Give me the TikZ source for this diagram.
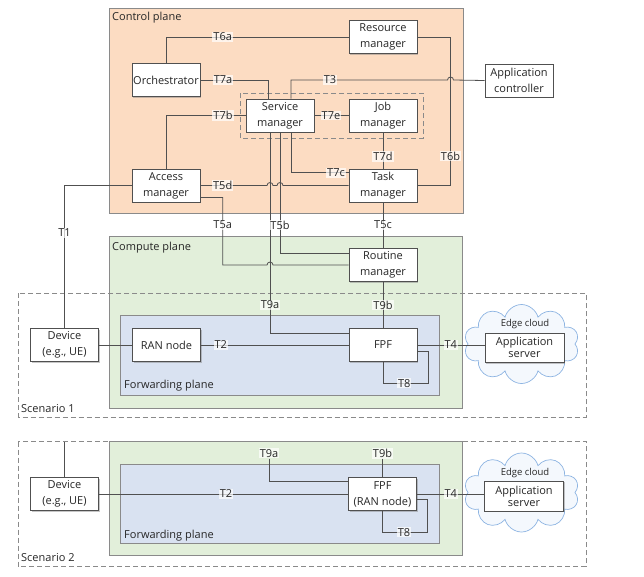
\documentclass[tikz,border=0pt]{standalone}
\usepackage{fontspec}
\setmainfont{Open Sans}
\usetikzlibrary{shadows,shapes.symbols}
\definecolor{ctrl}{HTML}{FCDCC2}
\definecolor{comp}{HTML}{E2EFDA}
\definecolor{fwd}{HTML}{D9E2F1}
\definecolor{ln}{HTML}{505050}
\definecolor{frame}{HTML}{8A8A8A}
\definecolor{cloudc}{HTML}{8DB4E2}
\definecolor{cloudf}{HTML}{F4F8FD}
\definecolor{txt}{HTML}{262626}
\begin{document}
\begin{tikzpicture}[x=1pt,y=-1pt,
  every node/.style={text=txt},
  box/.style={draw=ln, fill=white, line width=0.8pt, align=center, inner sep=0pt,
    minimum width=68pt, minimum height=33pt, font=\fontsize{11}{16}\selectfont,
    drop shadow={shadow xshift=1.2pt, shadow yshift=-1.2pt, opacity=0.45}},
  plane/.style={draw=frame, line width=0.8pt},
  scen/.style={draw=frame, line width=0.8pt, dash pattern=on 5pt off 3pt},
  lab/.style={fill=white, fill opacity=0.7, text opacity=1, inner sep=1pt, font=\fontsize{11}{13}\selectfont},
  tit/.style={anchor=west, font=\fontsize{11}{13}\selectfont, inner sep=0pt},
  wire/.style={draw=ln, line width=0.8pt},
  edgecloud/.style={cloud, cloud puffs=10, cloud ignores aspect, draw=cloudc, fill=cloudf,
    line width=0.7pt, minimum width=115pt, minimum height=79pt},
  small/.style={font=\fontsize{9.5}{11}\selectfont, inner sep=0pt}]
\useasboundingbox (0,0) rectangle (644,576);

% ---------- planes ----------
\draw[plane, fill=ctrl] (109,8) rectangle (463,213);
\node[tit] (ctrlt) at (112,18) {Control plane};
\draw[plane, fill=comp] (109.3,236.7) rectangle (462.3,408);
\node[tit] (compt) at (112,248) {Compute plane};
\draw[plane, fill=fwd] (120.7,315.7) rectangle (439.3,395);
\node[tit] (fwdt) at (124,386) {Forwarding plane};
\draw[scen] (18.3,293.3) rectangle (586,417);
\node[tit] (s1t) at (21,409) {Scenario 1};

\draw[plane, fill=comp] (109.3,441.7) rectangle (462.3,555.7);
\draw[plane, fill=fwd] (120.7,464) rectangle (439.3,543.3);
\node[tit] (fwdt2) at (124,536) {Forwarding plane};
\draw[scen] (18.3,441.7) rectangle (586,566.7);
\node[tit] (s2t) at (21,557.7) {Scenario 2};

\draw[scen] (240,93) rectangle (423,138);

% ---------- clouds ----------
\node[edgecloud] (cl1) at (521.5,344) {};
\node[small] (ec1) at (525,324.3) {Edge cloud};
\node[edgecloud] (cl2) at (521.5,492.5) {};
\node[small] (ec2) at (525,473.3) {Edge cloud};

% ---------- boxes ----------
\node[box] (res) at (383,37) {Resource\\manager};
\node[box] (orch) at (166,80) {Orchestrator};
\node[box] (serv) at (280,115.5) {Service\\manager};
\node[box] (job) at (383,115.5) {Job\\manager};
\node[box] (acc) at (166,185.5) {Access\\manager};
\node[box] (task) at (383,185.5) {Task\\manager};
\node[box] (appc) at (519,80.5) {Application\\controller};
\node[box] (rout) at (383,265) {Routine\\manager};
\node[box] (fpf1) at (383,345) {FPF};
\node[box] (ran) at (166.5,345) {RAN node};
\node[box] (dev1) at (64.5,345) {Device\\(e.g., UE)};
\node[box, minimum width=79pt, minimum height=29pt, font=\fontsize{11}{12}\selectfont] (as1) at (524.5,347.8) {Application\\server};

\node[box] (dev2) at (64.5,494) {Device\\(e.g., UE)};
\node[box] (fpf2) at (382.5,494) {FPF\\(RAN node)};
\node[box, minimum width=79pt, minimum height=30pt, font=\fontsize{11}{12}\selectfont] (as2) at (524,496) {Application\\server};

% ---------- wires: control plane ----------
\draw[wire] (orch.north) |- (res.west);
\draw[wire] (orch.east) -| ([xshift=-12pt]serv.north);
\draw[wire] ([xshift=11pt]serv.north) |- (447.5,80) arc[start angle=180,end angle=0,radius=3pt] -- (appc.west);
\draw[wire] (res.east) -| (450.5,185.5) -- (task.east);
\draw[wire] (acc.north) |- (serv.west);
\draw[wire] (serv.east) -- (job.west);
\draw[wire] (job.south) -- (task.north);
\draw[wire] ([xshift=11pt]serv.south) |- ([yshift=12.8pt]task.west);
\draw[wire] (acc.east) -- (267,185.5) arc[start angle=180,end angle=0,radius=3pt]
  -- (277,185.5) arc[start angle=180,end angle=0,radius=3pt] -- (task.west);

% ---------- wires: between planes ----------
\draw[wire] (acc.west) -| (dev1.north);
\draw[wire] ([yshift=-12pt]acc.east) -| (222.7,265) -- (267,265)
  arc[start angle=180,end angle=0,radius=3pt] -- (rout.west);
\draw[wire] (serv.south) |- ([yshift=11.7pt]rout.west);
\draw[wire] (task.south) -- (rout.north);
\draw[wire] ([xshift=-10pt]serv.south) |- ([yshift=11.7pt]fpf1.west);
\draw[wire] (rout.south) -- (fpf1.north);

% ---------- wires: scenario 1 ----------
\draw[wire] (dev1.east) -- (ran.west);
\draw[wire] (ran.east) -- (fpf1.west);
\draw[wire] (fpf1.east) -- (fpf1.east -| as1.west);
\draw[wire] ([yshift=-6.7pt]fpf1.east) -| (428.3,383.3) -| (fpf1.south);

% ---------- wires: scenario 2 ----------
\coordinate (s2top) at (64.5,441.7);
\node[lab] (t9a2) at (269,453.3) {T9a};
\node[lab] (t9b2) at (382.5,453.3) {T9b};
\draw[wire] (dev2.north) -- (s2top);
\draw[wire] (dev2.east) -- (fpf2.west);
\draw[wire] (t9a2.south) |- ([yshift=12.5pt]fpf2.west);
\draw[wire] (t9b2.south) -- (fpf2.north);
\draw[wire] (fpf2.east) -- (fpf2.east -| as2.west);
\draw[wire] ([yshift=-5pt]fpf2.east) -| (427.5,532.3) -| (fpf2.south);

% ---------- labels ----------
\node[lab] (l6a) at (222.7,37) {T6a};
\node[lab] (l7a) at (223,80) {T7a};
\node[lab] (l3) at (330,80) {T3};
\node[lab] (l7b) at (223,115.5) {T7b};
\node[lab] (l7e) at (331,115.5) {T7e};
\node[lab] (l7d) at (383,156.5) {T7d};
\node[lab] (l6b) at (450.5,156) {T6b};
\node[lab] (l7c) at (336,172.7) {T7c};
\node[lab] (l5d) at (222.7,185.5) {T5d};
\node[lab] (l1) at (64.5,233) {T1};
\node[lab] (l5a) at (222.7,225) {T5a};
\node[lab] (l5b) at (280,225) {T5b};
\node[lab] (l5c) at (383,225) {T5c};
\node[lab] (l9a) at (270,305) {T9a};
\node[lab] (l9b) at (383,305) {T9b};
\node[lab] (l2) at (220.7,345) {T2};
\node[lab] (l4) at (450.7,345) {T4};
\node[lab] (l8) at (404.3,383.3) {T8};
\node[lab] (l2b) at (226,494) {T2};
\node[lab] (l4b) at (450.8,494) {T4};
\node[lab] (l8b) at (404,532.3) {T8};
\end{tikzpicture}
\end{document}
